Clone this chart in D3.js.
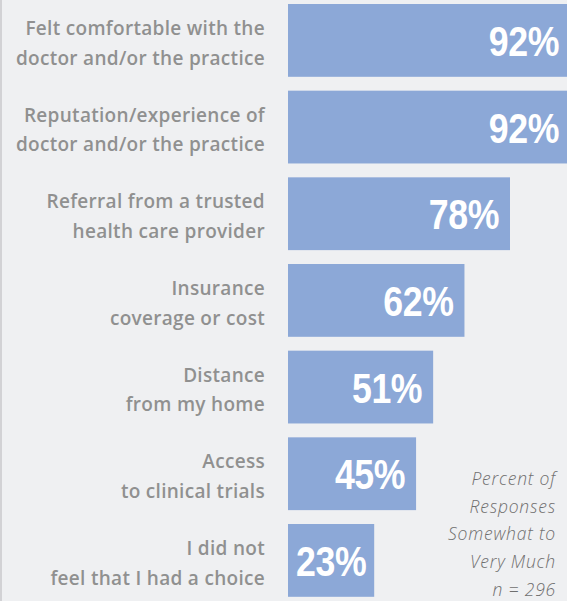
<!DOCTYPE html>
<html>
<head>
<meta charset="utf-8">
<script src="https://cdn.jsdelivr.net/npm/d3@7"></script>
<style>
  html, body { margin: 0; padding: 0; background: #eff0f2; }
  svg { display: block; }
</style>
</head>
<body>
<svg id="chart"></svg>
<script>
// data
var categories = [
    ["Felt comfortable with the", "doctor and/or the practice"],
    ["Reputation/experience of", "doctor and/or the practice"],
    ["Referral from a trusted", "health care provider"],
    ["Insurance", "coverage or cost"],
    ["Distance", "from my home"],
    ["Access", "to clinical trials"],
    ["I did not", "feel that I had a choice"]
];
var values = [92, 92, 78, 62, 51, 45, 23];
var noteLines = ["Percent of", "Responses", "Somewhat to", "Very Much", "n = 296"];

var width = 567, height = 601;
var barX = 288;
var squeeze = 0.83; // condensed look for the big numbers

var svg = d3.select("#chart").attr("width", width).attr("height", height);

svg.append("rect").attr("width", width).attr("height", height).attr("fill", "#eff0f2");
svg.append("line")
    .attr("x1", 1).attr("x2", 1).attr("y1", 0).attr("y2", height)
    .style("stroke", "#c9c9cb").style("stroke-width", "1.5px");

var keys = values.map(function (d, i) { return i; });
var yScale = d3.scaleBand().domain(keys).range([4, 596.8]).paddingInner(0.16).paddingOuter(0);
// the top bars run off the right edge in the original
var xScale = d3.scaleLinear().domain([0, 78, 92]).range([0, 222, 282]);

var rows = svg.selectAll("g.row")
    .data(values)
    .enter()
    .append("g")
    .attr("class", "row")
    .attr("transform", function (d, i) { return "translate(0," + yScale(i) + ")"; });

var bars = rows.append("rect")
    .attr("x", barX)
    .attr("y", 0)
    .attr("height", yScale.bandwidth())
    .style("fill", "#8ca8d7");

var pct = rows.append("text")
    .attr("text-anchor", "end")
    .style("font-family", "'Liberation Sans', Arial, sans-serif")
    .style("font-weight", "bold")
    .style("font-size", "43px")
    .style("letter-spacing", "-0.5px")
    .style("fill", "#ffffff")
    .text(function (d) { return d + "%"; });

function barWidth(d, i) {
    var tw = pct.nodes()[i].getComputedTextLength() * squeeze;
    return Math.max(xScale(d), tw + 16);
}

// bars are at least wide enough to hold their label
bars.attr("width", barWidth);
pct.attr("transform", function (d, i) {
    var w = barWidth(d, i);
    var x = barX + w - (w === xScale(d) ? 11 : 8);
    return "translate(" + x + "," + (yScale.bandwidth() / 2 + 15.5) + ") scale(" + squeeze + ",1)";
});

var labels = rows.append("text")
    .attr("text-anchor", "end")
    .style("font-family", "'Open Sans', 'Liberation Sans', sans-serif")
    .style("font-weight", "600")
    .style("font-size", "19px")
    .style("letter-spacing", "0.3px")
    .style("fill", "#909090");

labels.selectAll("tspan")
    .data(function (d, i) { return categories[i]; })
    .enter()
    .append("tspan")
    .attr("x", 265)
    .attr("y", function (d, j) { return 31 + j * 29.5; })
    .text(function (d) { return d; });

svg.append("text")
    .attr("text-anchor", "end")
    .style("font-family", "'Open Sans', 'Liberation Sans', sans-serif")
    .style("font-weight", "300")
    .style("font-style", "italic")
    .style("font-size", "17.5px")
    .style("letter-spacing", "0.8px")
    .style("fill", "#6f6f6f")
    .selectAll("tspan")
    .data(noteLines)
    .enter()
    .append("tspan")
    .attr("x", 556)
    .attr("y", function (d, i) { return 485 + i * 27.7; })
    .text(function (d) { return d; });
</script>
</body>
</html>
